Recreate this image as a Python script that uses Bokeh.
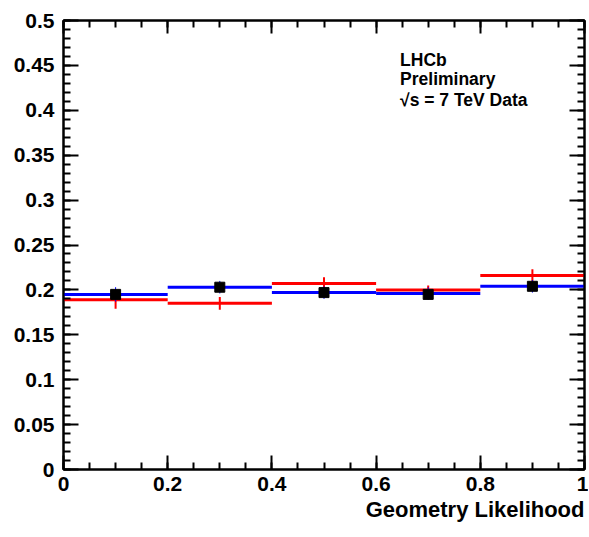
import numpy as np
from bokeh.plotting import figure
from bokeh.models import FixedTicker, LinearAxis, Title, Label, Range1d
from bokeh.embed import file_html
from bokeh.resources import INLINE

# ---- data ----
bin_lo = [0.0, 0.2, 0.4, 0.6, 0.8]
bin_hi = [0.2, 0.4, 0.6, 0.8, 1.0]
bin_center = [0.1, 0.3, 0.5, 0.7, 0.9]

data_val = [0.195, 0.203, 0.197, 0.195, 0.204]
data_err = [0.004, 0.004, 0.004, 0.004, 0.004]

blue_val = [0.195, 0.203, 0.197, 0.196, 0.204]
blue_err = [0.008, 0.007, 0.007, 0.007, 0.007]

red_val = [0.189, 0.185, 0.207, 0.200, 0.216]
red_err = [0.010, 0.007, 0.007, 0.005, 0.007]

xtick_vals = [0.0, 0.2, 0.4, 0.6, 0.8, 1.0]
xtick_labels = ["0", "0.2", "0.4", "0.6", "0.8", "1"]
ytick_vals = [0.0, 0.05, 0.1, 0.15, 0.2, 0.25, 0.3, 0.35, 0.4, 0.45, 0.5]
ytick_labels = ["0", "0.05", "0.1", "0.15", "0.2", "0.25", "0.3", "0.35", "0.4", "0.45", "0.5"]

x_title = "Geometry Likelihood"
label_lines = ["LHCb", "Preliminary", "\u221As = 7 TeV Data"]

FONT = "Liberation Sans"

p = figure(width=588, height=536, output_backend="svg", toolbar_location=None,
           x_range=Range1d(0, 1), y_range=Range1d(0, 0.5),
           x_axis_location=None, y_axis_location=None,
           min_border_left=63, min_border_right=4, min_border_top=20, min_border_bottom=67)
p.grid.visible = False
p.outline_line_color = "black"
p.outline_line_width = 2
p.background_fill_color = "white"
p.border_fill_color = "white"

x_minor = [round(v, 3) for v in np.arange(0, 1.0001, 0.05)]
y_minor = [round(v, 3) for v in np.arange(0, 0.5001, 0.01)]
xt = FixedTicker(ticks=xtick_vals, minor_ticks=x_minor)
yt = FixedTicker(ticks=ytick_vals, minor_ticks=y_minor)


def style(ax, labels, major_len, minor_len):
    ax.axis_line_color = "black"
    ax.axis_line_width = 2
    ax.major_tick_in = major_len
    ax.major_tick_out = 0
    ax.minor_tick_in = minor_len
    ax.minor_tick_out = 0
    ax.major_tick_line_width = 2
    ax.minor_tick_line_width = 2
    ax.major_label_text_font = FONT
    ax.major_label_text_font_style = "bold"
    if labels:
        ax.major_label_text_font_size = "21px"
        ax.major_label_text_color = "black"
    else:
        ax.major_label_text_font_size = "0px"
        ax.major_label_text_color = None
        ax.major_label_standoff = 0


xb = LinearAxis(ticker=xt, major_label_overrides=dict(zip(xtick_vals, xtick_labels)))
style(xb, True, 14, 7)
xb.major_label_standoff = 7
p.add_layout(xb, "below")

xa = LinearAxis(ticker=xt)
style(xa, False, 13, 7)
p.add_layout(xa, "above")

yl = LinearAxis(ticker=yt, major_label_overrides=dict(zip(ytick_vals, ytick_labels)))
style(yl, True, 15, 7)
yl.major_label_standoff = 9
p.add_layout(yl, "left")

yr = LinearAxis(ticker=yt)
style(yr, False, 15, 7)
p.add_layout(yr, "right")

t = Title(text=x_title, align="right", text_font=FONT, text_font_style="bold",
          text_font_size="22px", text_color="black", standoff=2)
p.add_layout(t, "below")

# red histogram
p.segment(x0=bin_lo, x1=bin_hi, y0=red_val, y1=red_val, line_color="#ff0000", line_width=3)
p.segment(x0=bin_center, x1=bin_center,
          y0=[v - e for v, e in zip(red_val, red_err)],
          y1=[v + e for v, e in zip(red_val, red_err)], line_color="#ff0000", line_width=2)

# blue histogram
p.segment(x0=bin_lo, x1=bin_hi, y0=blue_val, y1=blue_val, line_color="#0000ff", line_width=3)
p.segment(x0=bin_center, x1=bin_center,
          y0=[v - e for v, e in zip(blue_val, blue_err)],
          y1=[v + e for v, e in zip(blue_val, blue_err)], line_color="#0000ff", line_width=1)

# data points
p.segment(x0=bin_center, x1=bin_center,
          y0=[v - e for v, e in zip(data_val, data_err)],
          y1=[v + e for v, e in zip(data_val, data_err)], line_color="black", line_width=2)
p.scatter(x=bin_center, y=data_val, marker="square", size=10, fill_color="black", line_color="black")

label_y = [0.4565, 0.435, 0.4115]
for txt, yy in zip(label_lines, label_y):
    p.add_layout(Label(x=0.646, y=yy, text=txt, text_font=FONT, text_font_style="bold",
                       text_font_size="17.5px", text_color="black", text_baseline="alphabetic"))

open("out.html", "w").write(file_html(p, INLINE))
